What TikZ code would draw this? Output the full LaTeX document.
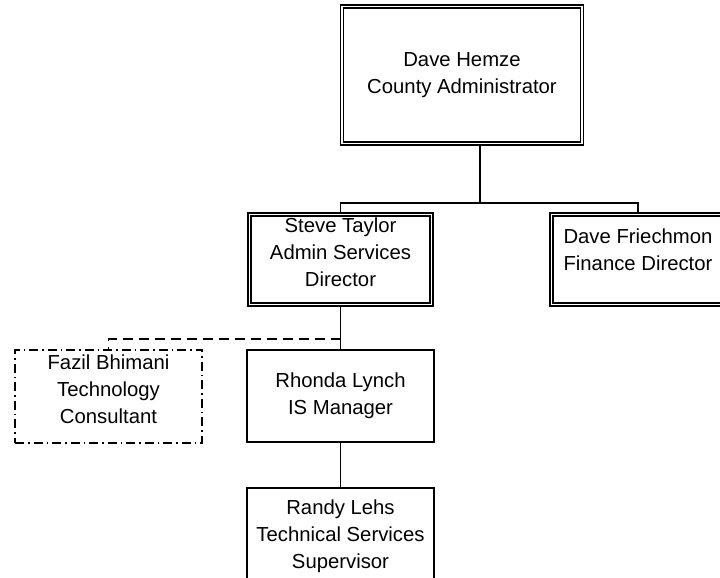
\documentclass[tikz,border=0pt]{standalone}
\usepackage{fontspec}
\setmainfont{Liberation Sans}
\colorlet{box edge}{black}
\tikzset{
  post/.style={draw=box edge, line width=1.5pt, align=center, inner sep=0pt,
    font=\fontsize{20.3}{27}\selectfont},
  head/.style={post, line width=1.5pt, double, double distance=1.6pt},
  consult/.style={post, line width=1.4pt, dash pattern=on 9pt off 4pt on 1.5pt off 4pt},
  link/.style={line width=1.6pt},
  dotted link/.style={link, dash pattern=on 10pt off 6pt}
}

\begin{document}
\begin{tikzpicture}[x=1pt, y=1pt]
    \useasboundingbox (0,0) rectangle (720,578);
    \node[head, minimum width=240pt, minimum height=137pt] (admin) at (462,503)
      {Dave Hemze\\County Administrator};
    \node[head, minimum width=182pt, minimum height=90pt, text depth=15pt] (services) at (340.5,318.5)
      {Steve Taylor\\Admin Services\\Director};
    \node[head, minimum width=173pt, minimum height=90pt, text depth=19pt] (finance) at (638,318.5)
      {Dave Friechmon\\Finance Director};
    \node[consult, minimum width=187pt, minimum height=93pt, text depth=15pt] (consultant) at (108.5,181.5)
      {Fazil Bhimani\\Technology\\Consultant};
    \node[post, minimum width=187pt, minimum height=92pt] (ismanager) at (340.5,182)
      {Rhonda Lynch\\IS Manager};
    \node[post, minimum width=187pt, minimum height=96pt] (techsup) at (340.5,42)
      {Randy Lehs\\Technical Services\\Supervisor};
    \coordinate (hub) at (480,375);
    \coordinate (branch) at (340.5,239);
    \draw[link] (admin.south -| hub) -- (hub);
    \draw[link] (services.north) |- (hub) -| (finance.north);
    \draw[link] (services) -- (ismanager);
    \draw[dotted link] (branch) -| (consultant.north);
    \draw[link] (ismanager) -- (techsup);
\end{tikzpicture}
\end{document}
